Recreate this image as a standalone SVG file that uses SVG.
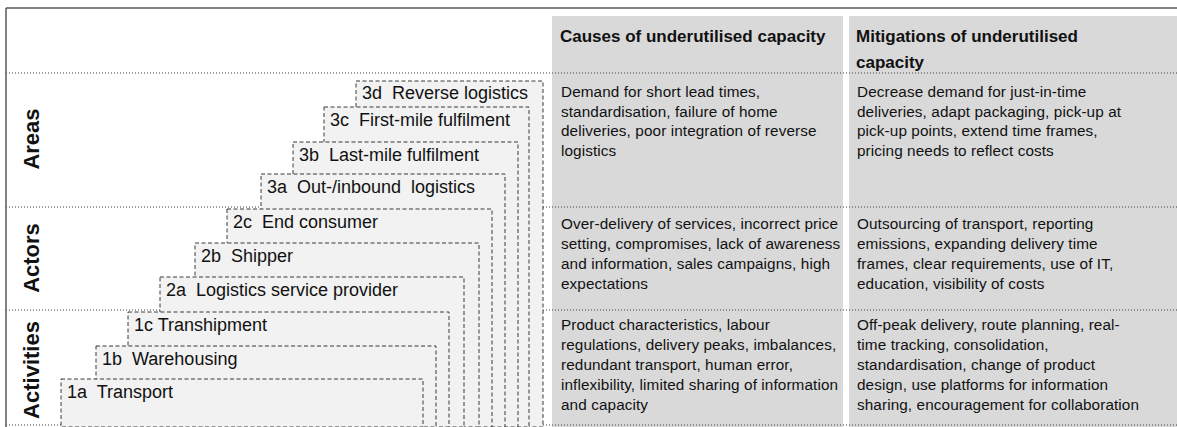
<svg xmlns="http://www.w3.org/2000/svg" width="1177" height="427" viewBox="0 0 1177 427">
<style>
.cell{fill:#d9d9d9}
.sep{stroke:#404040;stroke-width:1;stroke-dasharray:1 2;fill:none}
.box{fill:#f2f2f2;stroke:#3a3a3a;stroke-width:1;stroke-dasharray:4 2.5}
.lbl{font-family:"Liberation Sans",Arial,sans-serif;font-size:18px;fill:#111;white-space:pre}
.body{font-family:"Liberation Sans",Arial,sans-serif;font-size:15.3px;letter-spacing:0.1px;fill:#111}
.hdr{font-family:"Liberation Sans",Arial,sans-serif;font-size:17px;font-weight:bold;fill:#111}
.side{font-family:"Liberation Sans",Arial,sans-serif;font-size:22px;font-weight:bold;fill:#111;text-anchor:middle}
</style>
<rect x="0" y="0" width="1177" height="427" fill="#fff"/>
<g id="table">
<rect class="cell" x="552" y="16" width="291" height="411"/>
<rect class="cell" x="849" y="16" width="328" height="411"/>
</g>
<g id="separators">
<line class="sep" x1="6" y1="73" x2="1177" y2="73"/>
<line class="sep" x1="6" y1="207" x2="1177" y2="207"/>
<line class="sep" x1="6" y1="310" x2="1177" y2="310"/>
<line class="sep" x1="6" y1="425" x2="1177" y2="425"/>
</g>
<g id="frame" stroke="#595959" stroke-width="1.5" fill="none">
<line x1="6" y1="8" x2="1177" y2="8"/>
<line x1="6" y1="8" x2="6" y2="427"/>
</g>
<g id="side-labels">
<text class="side" transform="translate(39 139) rotate(-90)">Areas</text>
<text class="side" transform="translate(39 258) rotate(-90)">Actors</text>
<text class="side" transform="translate(39 370) rotate(-90)">Activities</text>
</g>
<g id="n3d"><rect class="box" x="356" y="81" width="187" height="346"/><text class="lbl" x="362" y="99" xml:space="preserve">3d  Reverse logistics</text></g>
<g id="n3c"><rect class="box" x="324" y="107" width="205" height="320"/><text class="lbl" x="330" y="126" xml:space="preserve">3c  First-mile fulfilment</text></g>
<g id="n3b"><rect class="box" x="293" y="142" width="225" height="285"/><text class="lbl" x="299" y="161" xml:space="preserve">3b  Last-mile fulfilment</text></g>
<g id="n3a"><rect class="box" x="261" y="174" width="244" height="253"/><text class="lbl" x="267" y="193" xml:space="preserve">3a  Out-/inbound  logistics</text></g>
<g id="n2c"><rect class="box" x="227" y="209" width="265" height="218"/><text class="lbl" x="233" y="228" xml:space="preserve">2c  End consumer</text></g>
<g id="n2b"><rect class="box" x="195" y="243" width="284" height="184"/><text class="lbl" x="201" y="262" xml:space="preserve">2b  Shipper</text></g>
<g id="n2a"><rect class="box" x="160" y="277" width="304" height="150"/><text class="lbl" x="166" y="296" xml:space="preserve">2a  Logistics service provider</text></g>
<g id="n1c"><rect class="box" x="128" y="312" width="321" height="115"/><text class="lbl" x="134" y="331" xml:space="preserve">1c Transhipment</text></g>
<g id="n1b"><rect class="box" x="96" y="346" width="340" height="81"/><text class="lbl" x="102" y="365" xml:space="preserve">1b  Warehousing</text></g>
<g id="n1a"><rect class="box" x="61" y="379" width="362" height="48"/><text class="lbl" x="67" y="398" xml:space="preserve">1a  Transport</text></g>
<g id="headers">
<text class="hdr" x="560" y="42">Causes of underutilised capacity</text>
<text class="hdr" x="856" y="42">Mitigations of underutilised</text>
<text class="hdr" x="856" y="68">capacity</text>
</g>
<g id="causes" class="body">
<text x="561" y="97">Demand for short lead times,</text>
<text x="561" y="117">standardisation, failure of home</text>
<text x="561" y="136">deliveries, poor integration of reverse</text>
<text x="561" y="156">logistics</text>
<text x="561" y="229">Over-delivery of services, incorrect price</text>
<text x="561" y="249">setting, compromises, lack of awareness</text>
<text x="561" y="269">and information, sales campaigns, high</text>
<text x="561" y="289">expectations</text>
<text x="561" y="330">Product characteristics, labour</text>
<text x="561" y="350">regulations, delivery peaks, imbalances,</text>
<text x="561" y="370">redundant transport, human error,</text>
<text x="561" y="390">inflexibility, limited sharing of information</text>
<text x="561" y="410">and capacity</text>
</g>
<g id="mitigations" class="body">
<text x="857" y="97">Decrease demand for just-in-time</text>
<text x="857" y="117">deliveries, adapt packaging, pick-up at</text>
<text x="857" y="136">pick-up points, extend time frames,</text>
<text x="857" y="156">pricing needs to reflect costs</text>
<text x="857" y="229">Outsourcing of transport, reporting</text>
<text x="857" y="249">emissions, expanding delivery time</text>
<text x="857" y="269">frames, clear requirements, use of IT,</text>
<text x="857" y="289">education, visibility of costs</text>
<text x="857" y="330">Off-peak delivery, route planning, real-</text>
<text x="857" y="350">time tracking, consolidation,</text>
<text x="857" y="370">standardisation, change of product</text>
<text x="857" y="390">design, use platforms for information</text>
<text x="857" y="410">sharing, encouragement for collaboration</text>
</g>
</svg>
